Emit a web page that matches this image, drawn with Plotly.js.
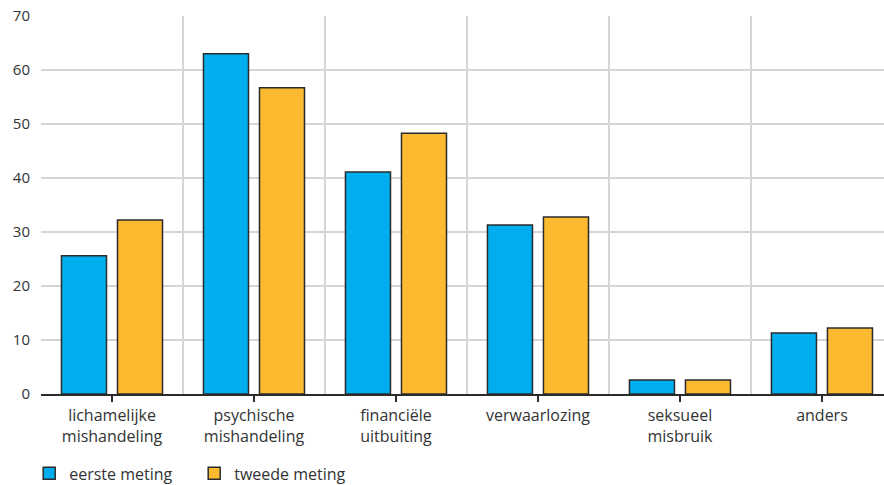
<!DOCTYPE html>
<html>
<head>
<meta charset="utf-8">
<script src="https://cdn.plot.ly/plotly-3.0.1.min.js"></script>
<style>html,body{margin:0;padding:0;background:#fff;}#chart{width:884px;height:485px;}</style>
</head>
<body>
<div id="chart"></div>
<script>
const categories = ["lichamelijke<br>mishandeling", "psychische<br>mishandeling", "financiële<br>uitbuiting", "verwaarlozing", "seksueel<br>misbruik", "anders"];
const eersteMeting = [25.6, 63.0, 41.1, 31.3, 2.6, 11.3];
const tweedeMeting = [32.2, 56.7, 48.3, 32.8, 2.6, 12.2];
const seriesNames = ["eerste meting", "tweede meting"];
const yTicks = [0, 10, 20, 30, 40, 50, 60, 70];

const pos = categories.map((c, i) => i);
const boundaries = [];
for (let i = 0; i <= categories.length; i++) boundaries.push(i - 0.5);

const lineStyle = {color: '#2b2b2b', width: 1.5};
const traces = [
  {type: 'bar', x: pos, y: eersteMeting, name: seriesNames[0],
   marker: {color: '#00aeef', line: lineStyle}, hoverinfo: 'y'},
  {type: 'bar', x: pos, y: tweedeMeting, name: seriesNames[1],
   marker: {color: '#fbba30', line: lineStyle}, hoverinfo: 'y'},
  {type: 'scatter', x: [0], y: [0], xaxis: 'x2', mode: 'markers',
   marker: {opacity: 0}, showlegend: false, hoverinfo: 'skip'}
];

const xr = [-0.5, 5.437];
const layout = {
  width: 884, height: 485,
  margin: {l: 41, r: 0, t: 16, b: 91, pad: 0, autoexpand: false},
  paper_bgcolor: '#fff', plot_bgcolor: '#fff',
  font: {family: 'Open Sans, Noto Sans, sans-serif', size: 16, color: '#333'},
  barmode: 'group', bargap: 0.211, bargroupgap: 0.196,
  showlegend: true,
  legend: {orientation: 'h', x: -0.014, xanchor: 'left', xref: 'paper',
           y: 0.024, yanchor: 'middle', yref: 'container',
           font: {size: 16, color: '#333'}, traceorder: 'normal',
           entrywidth: 120, entrywidthmode: 'pixels'},
  xaxis: {
    range: xr, tickmode: 'array', tickvals: pos, ticktext: categories,
    showgrid: false, zeroline: false, showline: true, linecolor: '#2b2b2b', linewidth: 1.5,
    ticks: 'outside', ticklen: 6, tickcolor: '#2b2b2b', tickwidth: 1.5,
    tickfont: {size: 16, color: '#333'}, fixedrange: true, automargin: false
  },
  xaxis2: {
    overlaying: 'x', range: xr, tickmode: 'array', tickvals: boundaries,
    showticklabels: false, showgrid: true, gridcolor: '#d6d6d6', gridwidth: 1.3,
    zeroline: false, ticks: '', layer: 'below traces'
  },
  yaxis: {
    range: [0, 70], tickmode: 'array', tickvals: yTicks,
    showgrid: true, gridcolor: '#d6d6d6', gridwidth: 1.3, zeroline: false,
    showline: false, ticks: '', ticklabelstandoff: 10,
    tickfont: {size: 15, color: '#333'}, fixedrange: true, automargin: false
  }
};

Plotly.newPlot('chart', traces, layout, {displayModeBar: false, staticPlot: true});
</script>
</body>
</html>
